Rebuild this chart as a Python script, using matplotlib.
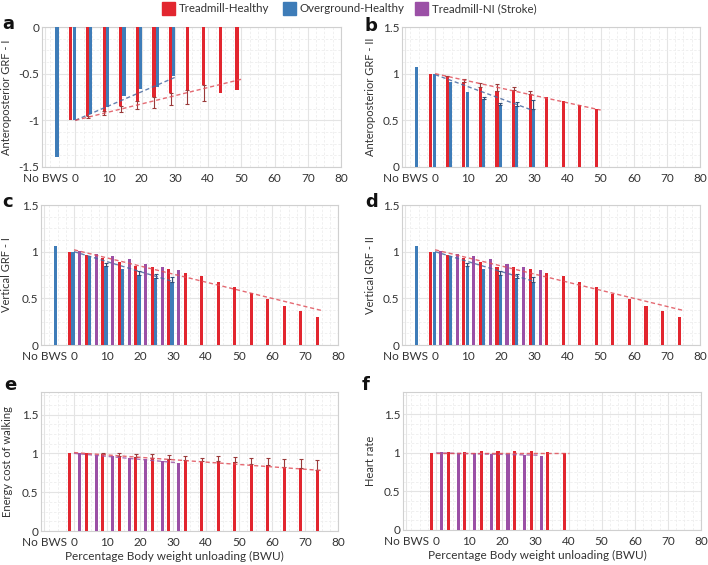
import numpy as np
import matplotlib
matplotlib.use("Agg")
import matplotlib.pyplot as plt
from matplotlib.patches import Rectangle
from matplotlib.ticker import MultipleLocator

plt.rcParams['font.family'] = ['Lato', 'DejaVu Sans']

# ---------------- data ----------------
bwu_red = [0, 5, 10, 15, 20, 25, 30, 35, 40, 45, 50, 55, 60, 65, 70, 75]
bwu_blue = [0, 5, 10, 15, 20, 25, 30]
bwu_purple = [0, 5, 10, 15, 20, 25, 30]
xticklabels = ["No BWS", "0", "10", "20", "30", "40", "50", "60", "70", "80"]
legend_labels = ["Treadmill-Healthy", "Overground-Healthy", "Treadmill-NI (Stroke)"]

# panel a: Anteroposterior GRF - I
a_nobws = -1.39
a_red = [-1.0, -0.95, -0.90, -0.85, -0.79, -0.75, -0.71, -0.67, -0.625, -0.71, -0.68]
a_red_err = [0.0, 0.03, 0.04, 0.06, 0.09, 0.12, 0.13, 0.15, 0.17, 0.0, 0.0]
a_blue = [-1.0, -0.93, -0.86, -0.74, -0.66, -0.64, -0.52]
a_blue_err = [0.0, 0.0, 0.0, 0.0, 0.0, 0.0, 0.0]
a_red_trend = [-1.0, -0.56]
a_blue_trend = [-1.0, -0.54]

# panel b: Anteroposterior GRF - II
b_nobws = 1.07
b_red = [1.0, 0.97, 0.91, 0.86, 0.81, 0.82, 0.78, 0.75, 0.71, 0.66, 0.62]
b_red_err = [0.0, 0.01, 0.03, 0.04, 0.08, 0.04, 0.03, 0.0, 0.0, 0.0, 0.0]
b_blue = [1.0, 0.91, 0.80, 0.73, 0.665, 0.65, 0.62]
b_blue_err = [0.0, 0.0, 0.0, 0.02, 0.025, 0.05, 0.10]
b_red_trend = [1.0, 0.61]
b_blue_trend = [0.99, 0.60]

# panel c: Vertical GRF - I
c_nobws = 1.06
c_red = [1.0, 0.96, 0.93, 0.89, 0.845, 0.84, 0.81, 0.77, 0.74, 0.67, 0.62, 0.56, 0.49, 0.42, 0.36, 0.30]
c_blue = [1.0, 0.95, 0.85, 0.81, 0.755, 0.72, 0.67]
c_blue_err = [0.0, 0.0, 0.03, 0.0, 0.035, 0.04, 0.06]
c_purple = [1.01, 0.98, 0.95, 0.92, 0.87, 0.84, 0.80]
c_red_trend = [1.02, 0.37]
c_blue_trend = [1.0, 0.68]

# panel d: Vertical GRF - II
d_nobws = 1.06
d_red = [1.0, 0.96, 0.93, 0.89, 0.84, 0.84, 0.81, 0.77, 0.74, 0.67, 0.62, 0.55, 0.49, 0.42, 0.36, 0.295]
d_blue = [1.0, 0.95, 0.85, 0.81, 0.755, 0.72, 0.67]
d_blue_err = [0.0, 0.0, 0.03, 0.0, 0.035, 0.04, 0.06]
d_purple = [1.01, 0.98, 0.95, 0.92, 0.87, 0.84, 0.80]
d_red_trend = [1.02, 0.37]
d_blue_trend = [1.0, 0.68]

# panel e: Energy cost of walking
e_red = [1.0, 1.0, 0.99, 0.97, 0.95, 0.945, 0.93, 0.915, 0.905, 0.905, 0.885, 0.865, 0.845, 0.82, 0.805, 0.78]
e_red_err = [0.0, 0.0, 0.01, 0.03, 0.04, 0.05, 0.05, 0.05, 0.04, 0.06, 0.07, 0.08, 0.09, 0.11, 0.12, 0.13]
e_purple = [1.0, 0.98, 0.97, 0.945, 0.925, 0.905, 0.88]
e_red_trend = [1.01, 0.78]
e_purple_trend = [1.0, 0.88]

# panel f: Heart rate
f_red = [1.0, 1.01, 1.01, 1.02, 1.025, 1.025, 1.02, 1.01, 1.0]
f_purple = [1.01, 1.0, 0.995, 0.99, 0.985, 0.975, 0.965]
f_red_trend = [1.0, 1.0]
f_purple_trend = [1.0, 0.97]

# ---------------- style ----------------
RED = "#E2262F"
BLUE = "#3E7CB8"
PURPLE = "#9B50A6"
RED_E = "#9a3a3a"
BLUE_E = "#2f4f78"
W = 0.95
OFF_R, OFF_B, OFF_P = -1.3, -0.3, 1.7
NOBWS_X = -5.5
TEXT = "#333333"
FS = 8.5
FS_Y = 8.0

fig = plt.figure(figsize=(7.08, 5.65), dpi=100)
FW, FH = 708, 565


def make_ax(left, top, right, bottom):
    return fig.add_axes([left / FW, 1 - bottom / FH, (right - left) / FW, (bottom - top) / FH])


def style(ax, ylim, yticks, ylabel, letter, letter_xy, ylab_px, xlabel=False):
    ax.set_xlim(-10, 80)
    ax.set_ylim(*ylim)
    ax.set_xticks([-9.0, 0, 10, 20, 30, 40, 50, 60, 70, 80])
    ax.set_xticklabels(xticklabels)
    ax.set_yticks(yticks)
    ax.set_yticklabels([("%g" % t) for t in yticks])
    ax.xaxis.set_minor_locator(MultipleLocator(2.5))
    ax.yaxis.set_minor_locator(MultipleLocator(0.125))
    ax.grid(True, which="major", color="#e4e4e4", lw=0.8)
    ax.grid(True, which="minor", color="#eeeeee", lw=0.6, ls=(0, (3, 2)))
    ax.set_axisbelow(True)
    ax.tick_params(which="both", length=0, labelsize=FS, colors=TEXT)
    ax.tick_params(axis="x", pad=4.5)
    ax.tick_params(axis="y", pad=2)
    for s in ax.spines.values():
        s.set_color("#d0d0d0")
        s.set_linewidth(0.8)
    ax.set_ylabel(ylabel, fontsize=FS_Y, color=TEXT)
    bb = ax.get_position()
    ax.yaxis.set_label_coords(-ylab_px / (bb.width * FW), 0.5)
    if xlabel:
        ax.set_xlabel("Percentage Body weight unloading (BWU)", fontsize=FS, color=TEXT)
        ax.xaxis.set_label_coords(0.45, -25 / (bb.height * FH))
        ax.xaxis.label.set_va("center")
    fig.text(letter_xy[0] / FW, 1 - letter_xy[1] / FH, letter, fontsize=13, fontweight="bold",
             ha="left", va="center", family="DejaVu Sans", color="#111111")


def bars(ax, xs, vals, off, color, err=None, ecolor=None):
    x = np.array(xs[:len(vals)], dtype=float) + off
    v = np.array(vals)
    ax.bar(x, v, width=W, color=color, zorder=3)
    if err is not None:
        e = np.array(err)
        lower = np.where(v < 0, e, 0)
        upper = np.where(v >= 0, e, 0)
        mask = e > 0
        ax.errorbar(x[mask], v[mask], yerr=[lower[mask], upper[mask]], fmt="none",
                    ecolor=ecolor, elinewidth=0.8, capsize=1.5, capthick=0.8, zorder=4)


def trend(ax, x_end, ys, color):
    ax.plot([0, x_end], ys, ls=(0, (3, 2)), color=color, lw=1.0, zorder=5, alpha=0.85)


# panel a
ax = make_ax(42, 27, 341, 167)
ax.bar([NOBWS_X], [a_nobws], width=W, color=BLUE, zorder=3)
bars(ax, bwu_red, a_red, OFF_R, RED, a_red_err, RED_E)
bars(ax, bwu_blue, a_blue, OFF_B, BLUE, a_blue_err, BLUE_E)
trend(ax, 30, a_blue_trend, "#4a6aa0")
trend(ax, 50, a_red_trend, "#e0505a")
style(ax, (-1.5, 0), [-1.5, -1, -0.5, 0], "Anteroposterior GRF - I", "a", (2, 24), 30)

# panel b
ax = make_ax(402, 27, 700, 167)
ax.bar([NOBWS_X], [b_nobws], width=W, color=BLUE, zorder=3)
bars(ax, bwu_red, b_red, OFF_R, RED, b_red_err, RED_E)
bars(ax, bwu_blue, b_blue, OFF_B, BLUE, b_blue_err, BLUE_E)
trend(ax, 30, b_blue_trend, "#4a6aa0")
trend(ax, 50, b_red_trend, "#e0505a")
style(ax, (0, 1.5), [0, 0.5, 1, 1.5], "Anteroposterior GRF - II", "b", (365, 26), 26)

# panel c
ax = make_ax(41, 205, 338, 345)
ax.bar([NOBWS_X], [c_nobws], width=W, color=BLUE, zorder=3)
bars(ax, bwu_red, c_red, OFF_R, RED)
bars(ax, bwu_blue, c_blue, OFF_B, BLUE, c_blue_err, BLUE_E)
bars(ax, bwu_purple, c_purple, OFF_P, PURPLE)
trend(ax, 30, c_blue_trend, "#4a6aa0")
trend(ax, 75, c_red_trend, "#e0505a")
style(ax, (0, 1.5), [0, 0.5, 1, 1.5], "Vertical GRF - I", "c", (2, 202), 29)

# panel d
ax = make_ax(402, 205, 700, 345)
ax.bar([NOBWS_X], [d_nobws], width=W, color=BLUE, zorder=3)
bars(ax, bwu_red, d_red, OFF_R, RED)
bars(ax, bwu_blue, d_blue, OFF_B, BLUE, d_blue_err, BLUE_E)
bars(ax, bwu_purple, d_purple, OFF_P, PURPLE)
trend(ax, 30, d_blue_trend, "#4a6aa0")
trend(ax, 75, d_red_trend, "#e0505a")
style(ax, (0, 1.5), [0, 0.5, 1, 1.5], "Vertical GRF - II", "d", (365, 202), 26)

# panel e
ax = make_ax(41, 392, 338, 531)
bars(ax, bwu_red, e_red, OFF_R, RED, e_red_err, RED_E)
bars(ax, bwu_purple, e_purple, OFF_P, PURPLE)
trend(ax, 31, e_purple_trend, "#a05aa8")
trend(ax, 75, e_red_trend, "#e0505a")
style(ax, (0, 1.79), [0, 0.5, 1, 1.5], "Energy cost of walking", "e", (4, 385), 28, xlabel=True)

# panel f
ax = make_ax(403, 392, 701, 530)
bars(ax, bwu_red, f_red, OFF_R, RED)
bars(ax, bwu_purple, f_purple, OFF_P, PURPLE)
trend(ax, 31, f_purple_trend, "#a05aa8")
trend(ax, 40, f_red_trend, "#e0505a")
style(ax, (0, 1.79), [0, 0.5, 1, 1.5], "Heart rate", "f", (362, 385), 27, xlabel=True)

# legend (manual placement)
leg_x = [162, 283, 415]
for xpx, col, lab in zip(leg_x, (RED, BLUE, PURPLE), legend_labels):
    fig.patches.append(Rectangle((xpx / FW, 1 - 15 / FH), 13 / FW, 13 / FH,
                                 transform=fig.transFigure, color=col, zorder=5))
    fig.text((xpx + 17) / FW, 1 - 8.5 / FH, lab, fontsize=8.3, color=TEXT, ha="left", va="center")

fig.savefig("out.png", dpi=100)
